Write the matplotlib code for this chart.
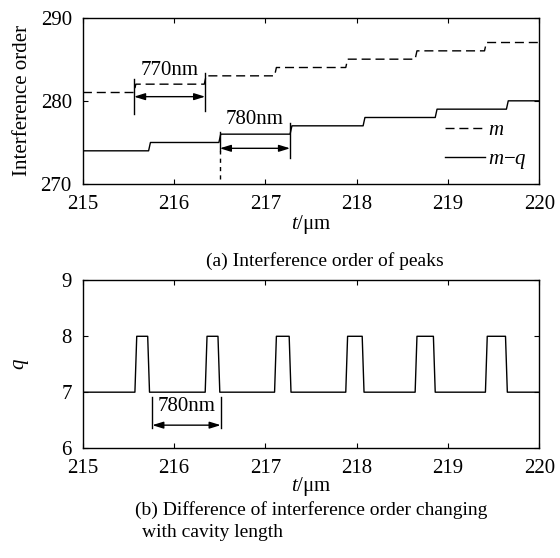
import matplotlib.pyplot as plt
import numpy as np

plt.rcParams['font.family'] = ['Liberation Serif', 'DejaVu Serif']
plt.rcParams['mathtext.fontset'] = 'custom'
plt.rcParams['mathtext.rm'] = 'Liberation Serif'
plt.rcParams['mathtext.it'] = 'Liberation Serif:italic'

# (a) interference order, step curves
t_start, t_end = 215.0, 220.0
m_levels = [281, 282, 283, 284, 285, 286, 287]
m_steps = [215.56, 216.33, 217.10, 217.88, 218.64, 219.40]
mq_levels = [274, 275, 276, 277, 278, 279, 280]
mq_steps = [215.72, 216.49, 217.27, 218.07, 218.86, 219.64]

# (b) q pulses
q_base, q_peak = 7, 8
q_rise = [215.57, 216.34, 217.10, 217.88, 218.64, 219.41]
q_fall = [215.73, 216.50, 217.28, 218.08, 218.86, 219.65]

x_ticks = [215, 216, 217, 218, 219, 220]
ya_ticks = [270, 280, 290]
yb_ticks = [6, 7, 8, 9]

slant = 0.02


def step_line(levels, steps):
    xs, ys = [t_start], [levels[0]]
    for i, s in enumerate(steps):
        xs += [s, s + slant]
        ys += [levels[i], levels[i + 1]]
    xs.append(t_end)
    ys.append(levels[-1])
    return xs, ys


def pulse_line(rise, fall):
    xs, ys = [t_start], [q_base]
    for r, f in zip(rise, fall):
        xs += [r, r + slant, f - slant, f]
        ys += [q_base, q_peak, q_peak, q_base]
    xs.append(t_end)
    ys.append(q_base)
    return xs, ys


def dim_arrow(ax, x1, x2, y):
    ax.annotate('', xy=(x2, y), xytext=(x1, y),
                arrowprops=dict(arrowstyle='<|-|>,head_length=0.55,head_width=0.17',
                                color='k', lw=1.0, shrinkA=0, shrinkB=0,
                                mutation_scale=12))


fs = 15
fc = 14  # captions
fig = plt.figure(figsize=(5.6, 5.58), dpi=100)
ax1 = fig.add_axes([0.148, 0.670, 0.815, 0.2986])
ax2 = fig.add_axes([0.148, 0.197, 0.815, 0.3005])

xs, ys = step_line(m_levels, m_steps)
ax1.plot(xs, ys, color='k', lw=1.0, dashes=(6.5, 3.5), label='$m$')
xs, ys = step_line(mq_levels, mq_steps)
ax1.plot(xs, ys, color='k', lw=1.0, label='$m$\u2212$q$')

# 770nm marker
ax1.plot([215.56, 215.56], [278.4, 282.6], color='k', lw=1.0)
ax1.plot([216.34, 216.34], [278.8, 283.3], color='k', lw=1.0)
dim_arrow(ax1, 215.56, 216.34, 280.5)
ax1.text(215.95, 283.7, '770nm', fontsize=fs, ha='center', va='center')
# 780nm marker
ax1.plot([216.50, 216.50], [270.6, 274.0], color='k', lw=1.0, dashes=(3, 3))
ax1.plot([216.50, 216.50], [274.0, 276.3], color='k', lw=1.0)
ax1.plot([217.27, 217.27], [273.1, 277.3], color='k', lw=1.0)
dim_arrow(ax1, 216.50, 217.27, 274.3)
ax1.text(216.88, 277.7, '780nm', fontsize=fs, ha='center', va='center')

ax1.set_xlim(t_start, t_end)
ax1.set_ylim(270, 290)
ax1.set_xticks(x_ticks)
ax1.set_yticks(ya_ticks)
ax1.set_ylabel('Interference order', fontsize=fs, labelpad=6)
ax1.set_xlabel('$t$/\u03bcm', fontsize=fs, labelpad=-1)
ax1.legend(loc='lower right', bbox_to_anchor=(1.0, 0.005), frameon=False,
           fontsize=fs, handlelength=1.9, handletextpad=0.15, labelspacing=0.45,
           borderaxespad=0.2)

xs, ys = pulse_line(q_rise, q_fall)
ax2.plot(xs, ys, color='k', lw=1.0)
ax2.plot([215.76, 215.76], [6.36, 6.92], color='k', lw=1.0)
ax2.plot([216.51, 216.51], [6.36, 6.92], color='k', lw=1.0)
dim_arrow(ax2, 215.76, 216.51, 6.41)
ax2.text(216.14, 6.74, '780nm', fontsize=fs, ha='center', va='center')

ax2.set_xlim(t_start, t_end)
ax2.set_ylim(6, 9)
ax2.set_xticks(x_ticks)
ax2.set_yticks(yb_ticks)
ax2.set_ylabel('$q$', fontsize=fs, labelpad=22)
ax2.set_xlabel('$t$/\u03bcm', fontsize=fs, labelpad=-2)

for ax in (ax1, ax2):
    ax.tick_params(direction='in', top=True, right=True, length=3.5, width=0.8,
                   labelsize=fs, pad=8)
    for sp in ax.spines.values():
        sp.set_linewidth(1.0)

fig.text(0.58, 0.532, '(a) Interference order of peaks', fontsize=fc,
         ha='center', va='center')
fig.text(0.555, 0.086, '(b) Difference of interference order changing',
         fontsize=fc, ha='center', va='center')
fig.text(0.253, 0.045, 'with cavity length', fontsize=fc, ha='left', va='center')

fig.savefig('out.png', dpi=100)
